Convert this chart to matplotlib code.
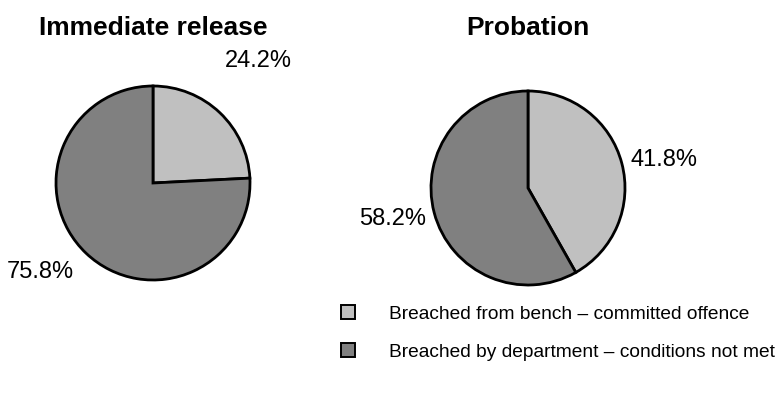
import numpy as np
import matplotlib.pyplot as plt
from matplotlib.patches import Patch

plt.rcParams['font.family'] = ['Liberation Sans', 'DejaVu Sans']

titles = ["Immediate release", "Probation"]
categories = ["Breached from bench \u2013 committed offence",
              "Breached by department \u2013 conditions not met"]
immediate_release = [24.2, 75.8]
probation = [41.8, 58.2]
colours = ["#c0c0c0", "#808080"]

W, H = 782, 416
fig = plt.figure(figsize=(W / 100, H / 100), dpi=100)

# pie centres and radius in pixels
centres = [(153, 183), (528, 188)]
R = 97
# label (distance in radii, angle in degrees) for each slice
label_pos = [[(1.66, 49), (1.48, 218.5)],
             [(1.43, 11.7), (1.43, 193)]]

for i, vals in enumerate([immediate_release, probation]):
    cx, cy = centres[i]
    ax = fig.add_axes([(cx - R) / W, (H - cy - R) / H, 2 * R / W, 2 * R / H])
    wedges, texts, pcts = ax.pie(vals, colors=colours, startangle=90, counterclock=False,
                                 autopct='%1.1f%%', pctdistance=1.4,
                                 wedgeprops=dict(edgecolor='black', linewidth=2),
                                 textprops=dict(fontsize=17))
    for t, (d, a) in zip(pcts, label_pos[i]):
        t.set_position((d * np.cos(np.radians(a)), d * np.sin(np.radians(a))))
    ax.set_xlim(-1, 1)
    ax.set_ylim(-1, 1)
    ax.set_aspect('equal')
    fig.text(cx / W, 1 - 28 / H, titles[i], ha='center', va='center',
             fontsize=19, fontweight='bold')

handles = [Patch(facecolor=c, edgecolor='black', linewidth=1.4) for c in colours]
fig.legend(handles, categories, loc='upper left', bbox_to_anchor=(341 / W, 1 - 305 / H),
           frameon=False, fontsize=13.8, handlelength=0.75, handleheight=0.75,
           handletextpad=1.75, labelspacing=1.05, borderaxespad=0, borderpad=0)

fig.savefig("out.png", dpi=100)
